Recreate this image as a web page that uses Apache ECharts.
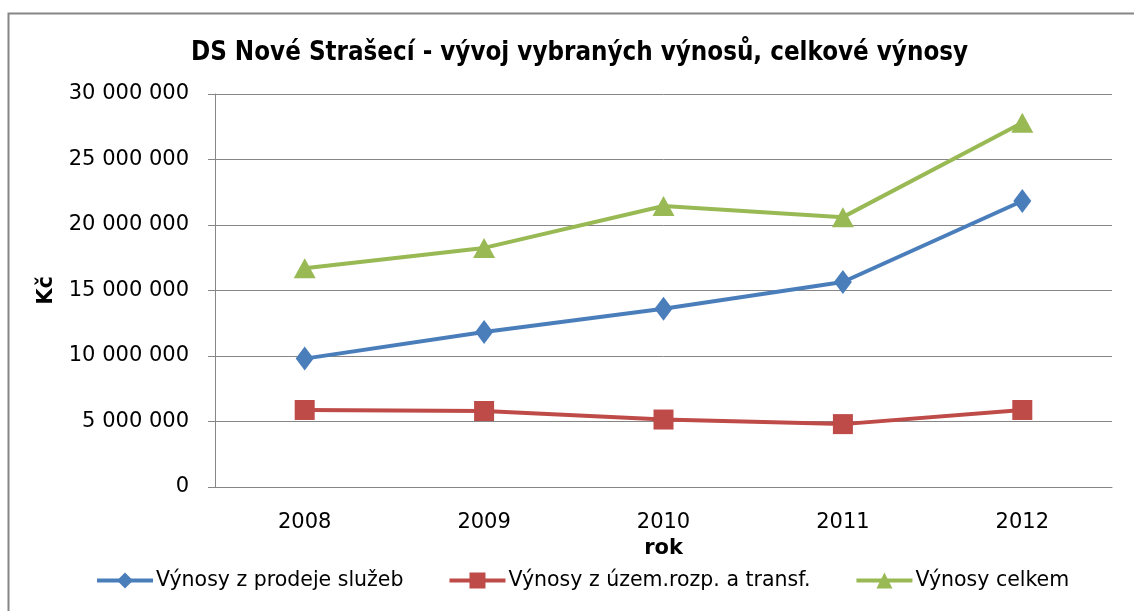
<!DOCTYPE html>
<html>
<head>
<meta charset="utf-8">
<script src="https://cdn.jsdelivr.net/npm/echarts@6/dist/echarts.min.js"></script>
<style>
html,body{margin:0;padding:0;background:#fff;}
#chart{width:1134px;height:611px;}
</style>
</head>
<body>
<div id="chart"></div>
<script>
var years = ['2008', '2009', '2010', '2011', '2012'];
var sluzby = [9800000, 11830000, 13600000, 15650000, 21830000];
var uzem = [5880000, 5800000, 5150000, 4800000, 5880000];
var celkem = [16700000, 18250000, 21450000, 20600000, 27800000];
var names = ['Výnosy z prodeje služeb', 'Výnosy z územ.rozp. a transf.', 'Výnosy celkem'];

var font = '"DejaVu Sans", sans-serif';
var titleFont = '"DejaVu Sans Condensed", "DejaVu Sans", sans-serif';

function fmt(v) {
	return String(v).replace(/\B(?=(\d{3})+(?!\d))/g, ' ');
}

var myChart = echarts.init(document.getElementById('chart'));
var option = {
	animation: false,
	color: ['#4A7EBB', '#BE4B48', '#98B954'],
	title: {
		text: 'DS Nové Strašecí - vývoj vybraných výnosů, celkové výnosy',
		left: 186,
		top: 35,
		textStyle: {fontFamily: titleFont, fontSize: 25.7, fontWeight: 'bold', color: '#000'}
	},
	graphic: [{
		type: 'rect',
		shape: {x: 8.5, y: 13.5, width: 1140, height: 620},
		style: {fill: 'none', stroke: '#868686', lineWidth: 2}
	}],
	legend: {
		bottom: 15,
		left: 90,
		itemWidth: 56,
		itemHeight: 20,
		itemGap: 44,
		lineStyle: {width: 4},
		textStyle: {fontFamily: font, fontSize: 20.5, color: '#000', padding: [0, 0, 0, -2]},
		data: names
	},
	grid: {left: 215, right: 22, top: 94, bottom: 124},
	xAxis: {
		type: 'category',
		data: years,
		boundaryGap: true,
		name: 'rok',
		nameLocation: 'middle',
		nameGap: 51,
		nameTextStyle: {fontFamily: font, fontSize: 21, fontWeight: 'bold', color: '#000'},
		axisLine: {lineStyle: {color: '#868686', width: 1}},
		axisTick: {length: 8, lineStyle: {color: '#868686'}},
		axisLabel: {fontFamily: font, fontSize: 21, color: '#000', margin: 25}
	},
	yAxis: {
		type: 'value',
		min: 0,
		max: 30000000,
		interval: 5000000,
		name: 'Kč',
		nameLocation: 'middle',
		nameGap: 158,
		nameTextStyle: {fontFamily: font, fontSize: 21, fontWeight: 'bold', color: '#000'},
		axisLine: {show: true, lineStyle: {color: '#868686', width: 1}},
		axisTick: {show: true, length: 7, lineStyle: {color: '#868686'}},
		axisLabel: {fontFamily: font, fontSize: 21, color: '#000', margin: 26, formatter: fmt, padding: [3, 0, 0, 0]},
		splitLine: {lineStyle: {color: '#868686', width: 1}}
	},
	series: [
		{
			name: names[0], type: 'line', data: sluzby,
			symbol: 'diamond', symbolSize: [18, 24],
			lineStyle: {width: 4}
		},
		{
			name: names[1], type: 'line', data: uzem,
			symbol: 'rect', symbolSize: [20, 20],
			lineStyle: {width: 4}
		},
		{
			name: names[2], type: 'line', data: celkem,
			symbol: 'triangle', symbolSize: [22, 20],
			lineStyle: {width: 4}
		}
	]
};
myChart.setOption(option);
</script>
</body>
</html>
